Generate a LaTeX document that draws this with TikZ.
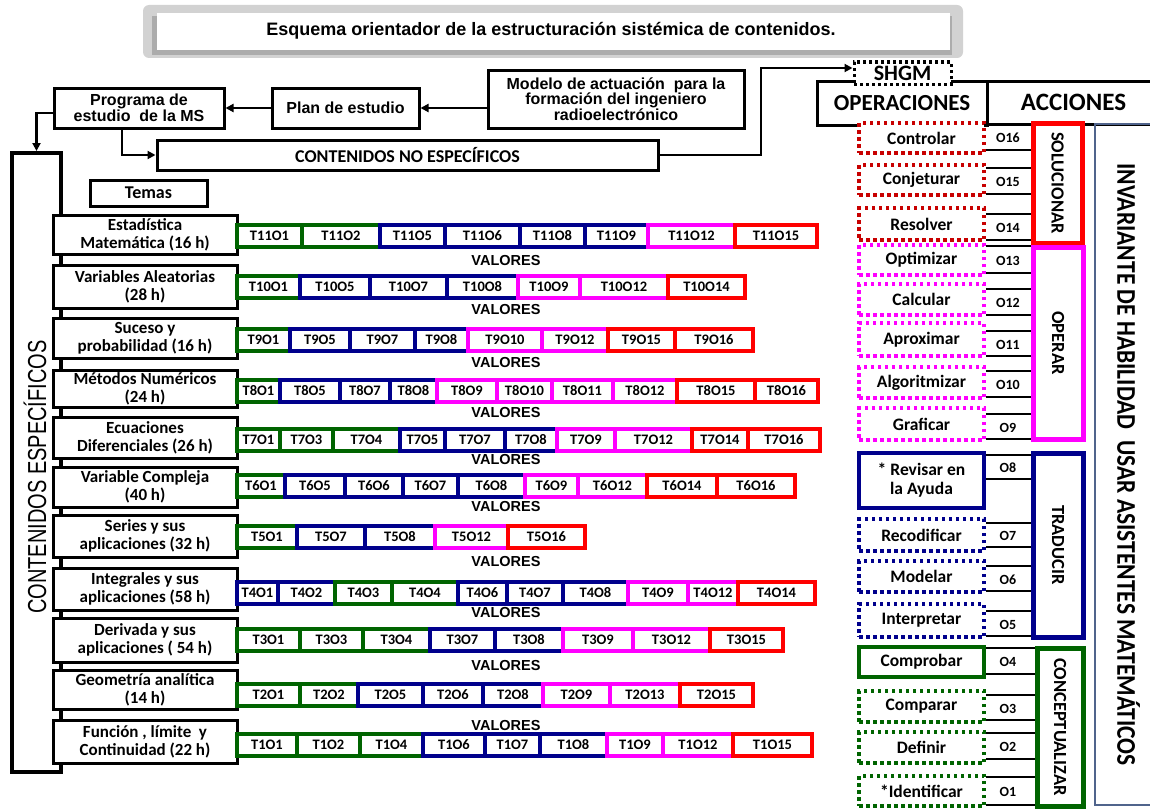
\documentclass[tikz,border=0pt]{standalone}
\usepackage{fontspec}
\setmainfont{Carlito}
\newfontfamily\arialfont{Liberation Sans}
\usetikzlibrary{positioning,arrows.meta}

\definecolor{tgreen}{RGB}{0,100,0}
\definecolor{tnavy}{RGB}{0,0,140}
\definecolor{tmag}{RGB}{255,0,255}
\definecolor{tred}{RGB}{255,0,0}
\definecolor{dred}{RGB}{200,0,0}
\definecolor{invblue}{RGB}{80,100,140}
\newcommand{\fsz}[2]{\fontsize{#1}{#2}\selectfont}

\begin{document}
\begin{tikzpicture}[x=1pt, y=-1pt,
    box/.style={draw, line width=3pt, fill=white, inner sep=0pt, align=center, font=\arialfont\bfseries\fsz{16}{16}},
    theme/.style={draw, line width=3pt, fill=white, inner sep=0pt, align=center, minimum width=184pt, font=\bfseries\fsz{17}{18}},
    cell/.style={draw, line width=4pt, fill=white, inner sep=0pt, minimum height=22pt, font=\bfseries\fsz{14.5}{15}},
    valores/.style={font=\arialfont\bfseries\fsz{14.5}{14}},
    arrow/.style={-{Triangle[length=8pt,width=8pt]}, line width=2.5pt},
    opbox/.style={line width=3.5pt, fill=white, inner sep=0pt, align=center, minimum width=125pt, font=\bfseries\fsz{17.5}{19}},
    dotbox/.style={opbox, dash pattern=on 3.5pt off 3.5pt},
    act/.style={draw, line width=5pt, fill=white, inner sep=0pt, font=\bfseries\fsz{18.5}{18}},
    olab/.style={font=\bfseries\fsz{14}{14}},
    olink/.style={line width=2.5pt}
]
    \useasboundingbox (0,0) rectangle (1150,808);

    % title
    \fill[gray!35, rounded corners=6pt] (143,5) rectangle (963,58);
    \fill[gray!65] (152,16) rectangle (952,55);
    \fill[white] (157,13) rectangle (950,50);
    \node[font=\arialfont\bfseries\fsz{18}{20}] (title) at (551,31) {Esquema orientador de la estructuraci\'on sist\'emica de contenidos.};

    % top chain
    \node[box, minimum width=256pt, minimum height=58pt, font=\arialfont\bfseries\fsz{16}{15.5}] (model) at (616,99) {Modelo de actuaci\'on\ \ para la\\formaci\'on del ingeniero\\radioelectr\'onico};
    \node[box, minimum width=147pt, minimum height=40pt] (plan) at (345.5,108) {Plan de estudio};
    \node[box, minimum width=170pt, minimum height=40pt] (prog) at (139,108) {Programa de\\estudio\ \ de la MS};
    \node[box, minimum width=501pt, minimum height=30pt, font=\bfseries\fsz{18}{18}] (noesp) at (407.5,155) {CONTENIDOS NO ESPEC\'IFICOS};
    \node[box, minimum width=117pt, minimum height=26pt, font=\bfseries\fsz{18}{18}] (temas) at (148.5,193) {Temas};

    % specific contents column
    \node[draw, line width=4pt, minimum width=49pt, minimum height=619pt, inner sep=0pt] (col) at (36.5,462.5) {};
    \node[rotate=90, font=\arialfont\fsz{20}{20}] (colt) at (35,477) {\scalebox{1}[1.3]{CONTENIDOS ESPEC\'IFICOS}};

    \draw[arrow] (plan.east -| model.west) -- (plan.east);
    \draw[arrow] (plan.west) -- (prog.east);
    \draw[arrow] ([yshift=-5pt]prog.west) -| (col.north);
    \draw[arrow] ([xshift=-17pt]prog.south) |- (noesp.west);

    % themes
    \node[theme, minimum height=39pt] (th11) at (145,234.5) {Estad\'istica\\Matem\'atica (16 h)};
    \node[theme, minimum height=43pt] (th10) at (145,286.5) {Variables Aleatorias\\(28 h)};
    \node[theme, minimum height=40pt] (th9) at (145,338) {Suceso y\\probabilidad (16 h)};
    \node[theme, minimum height=37pt] (th8) at (145,388.5) {M\'etodos Num\'ericos\\(24 h)};
    \node[theme, minimum height=41pt] (th7) at (145,437.5) {Ecuaciones\\Diferenciales (26 h)};
    \node[theme, minimum height=40pt] (th6) at (145,487) {Variable Compleja\\(40 h)};
    \node[theme, minimum height=42pt] (th5) at (145,536) {Series y sus\\aplicaciones (32 h)};
    \node[theme, minimum height=42pt] (th4) at (145,589) {Integrales y sus\\aplicaciones (58 h)};
    \node[theme, minimum height=44pt] (th3) at (145,640) {Derivada y sus\\aplicaciones ( 54 h)};
    \node[theme, minimum height=39pt] (th2) at (145,689.5) {Geometr\'ia anal\'itica\\(14 h)};
    \node[theme, minimum height=43pt] (th1) at (145,741.5) {Funci\'on , l\'imite\ \ y\\Continuidad (22 h)};

    % topic cells
    \foreach \a/\b/\c/\t in {237/302/tgreen/T11O1, 302/380/tgreen/T11O2, 380/445/tnavy/T11O5, 445/520/tnavy/T11O6, 520/585/tnavy/T11O8, 585/648/tnavy/T11O9, 648/735/tmag/T11O12, 735/817/tred/T11O15}
        \node[cell, draw=\c, minimum width={(\b-\a)*1pt}] (\t) at ({(\a+\b)/2},236) {\t};
    \foreach \a/\b/\c/\t in {237/300/tgreen/T10O1, 300/370/tnavy/T10O5, 370/447/tnavy/T10O7, 447/518/tnavy/T10O8, 518/580/tmag/T10O9, 580/668/tmag/T10O12, 668/745/tred/T10O14}
        \node[cell, draw=\c, minimum width={(\b-\a)*1pt}] (\t) at ({(\a+\b)/2},287) {\t};
    \foreach \a/\b/\c/\t in {237/290/tgreen/T9O1, 290/350/tnavy/T9O5, 350/415/tnavy/T9O7, 415/468/tnavy/T9O8, 468/542/tmag/T9O10, 542/608/tmag/T9O12, 608/675/tred/T9O15, 675/753/tred/T9O16}
        \node[cell, draw=\c, minimum width={(\b-\a)*1pt}] (\t) at ({(\a+\b)/2},339.5) {\t};
    \foreach \a/\b/\c/\t in {237/280/tgreen/T8O1, 280/340/tnavy/T8O5, 340/390/tnavy/T8O7, 390/437/tnavy/T8O8, 437/497/tmag/T8O9, 497/552/tmag/T8O10, 552/613/tmag/T8O11, 613/677/tmag/T8O12, 677/755/tred/T8O15, 755/818/tred/T8O16}
        \node[cell, draw=\c, minimum width={(\b-\a)*1pt}] (\t) at ({(\a+\b)/2},391) {\t};
    \foreach \a/\b/\c/\t in {237/280/tgreen/T7O1, 280/333/tgreen/T7O3, 333/400/tgreen/T7O4, 400/445/tnavy/T7O5, 445/505/tnavy/T7O7, 505/557/tnavy/T7O8, 557/615/tmag/T7O9, 615/692/tmag/T7O12, 692/748/tred/T7O14, 748/820/tred/T7O16}
        \node[cell, draw=\c, minimum width={(\b-\a)*1pt}] (\t) at ({(\a+\b)/2},439.5) {\t};
    \foreach \a/\b/\c/\t in {237/285/tgreen/T6O1, 285/345/tnavy/T6O5, 345/403/tnavy/T6O6, 403/458/tnavy/T6O7, 458/525/tnavy/T6O8, 525/578/tmag/T6O9, 578/647/tmag/T6O12, 647/717/tred/T6O14, 717/795/tred/T6O16}
        \node[cell, draw=\c, minimum width={(\b-\a)*1pt}] (\t) at ({(\a+\b)/2},485.5) {\t};
    \foreach \a/\b/\c/\t in {237/297/tgreen/T5O1, 297/365/tnavy/T5O7, 365/435/tnavy/T5O8, 435/508/tmag/T5O12, 508/585/tred/T5O16}
        \node[cell, draw=\c, minimum width={(\b-\a)*1pt}] (\t) at ({(\a+\b)/2},536.5) {\t};
    \foreach \a/\b/\c/\t in {237/278/tnavy/T4O1, 278/335/tnavy/T4O2, 335/392/tgreen/T4O3, 392/458/tgreen/T4O4, 458/507/tnavy/T4O6, 507/563/tnavy/T4O7, 563/628/tnavy/T4O8, 628/688/tmag/T4O9, 688/738/tmag/T4O12, 738/815/tred/T4O14}
        \node[cell, draw=\c, minimum width={(\b-\a)*1pt}] (\t) at ({(\a+\b)/2},592.5) {\t};
    \foreach \a/\b/\c/\t in {237/300/tgreen/T3O1, 300/363/tgreen/T3O3, 363/430/tgreen/T3O4, 430/495/tnavy/T3O7, 495/563/tnavy/T3O8, 563/633/tmag/T3O9, 633/710/tmag/T3O12, 710/783/tred/T3O15}
        \node[cell, draw=\c, minimum width={(\b-\a)*1pt}] (\t) at ({(\a+\b)/2},639.5) {\t};
    \foreach \a/\b/\c/\t in {237/300/tgreen/T2O1, 300/358/tgreen/T2O2, 358/423/tnavy/T2O5, 423/483/tnavy/T2O6, 483/543/tnavy/T2O8, 543/610/tmag/T2O9, 610/680/tmag/T2O13, 680/753/tred/T2O15}
        \node[cell, draw=\c, minimum width={(\b-\a)*1pt}] (\t) at ({(\a+\b)/2},695) {\t};
    \foreach \a/\b/\c/\t in {237/297/tgreen/T1O1, 297/360/tgreen/T1O2, 360/423/tgreen/T1O4, 423/485/tnavy/T1O6, 485/540/tnavy/T1O7, 540/607/tnavy/T1O8, 607/663/tmag/T1O9, 663/733/tmag/T1O12, 733/812/tred/T1O15}
        \node[cell, draw=\c, minimum width={(\b-\a)*1pt}] (\t) at ({(\a+\b)/2},745) {\t};

    \foreach \y [count=\i] in {261,310,363,413,460,507,562,612,665,725}
        \node[valores] (val\i) at (506,\y) {VALORES};

    % right side
    \node[box, minimum width=173pt, minimum height=43pt, font=\bfseries\fsz{25}{25}] (acc) at (1073.5,102.5) {ACCIONES};
    \node[box, minimum width=170pt, minimum height=44pt, font=\bfseries\fsz{23}{23}] (oper) at (902,103) {OPERACIONES};
    \node[box, dash pattern=on 3pt off 3pt, minimum width=97pt, minimum height=22pt, font=\bfseries\fsz{22}{22}] (shgm) at (902.5,73) {SHGM};
    \coordinate (bend) at (761,155);
    \draw[arrow] (noesp.east) -- (bend) |- ([yshift=5pt]shgm.west);

    \node[draw=invblue, line width=2.5pt, minimum width=67pt, minimum height=681pt, inner sep=0pt, font=\bfseries\fsz{23.5}{24}] (inv) at (1128.5,464.5) {\rotatebox{-90}{\scalebox{1}[1.15]{INVARIANTE DE HABILIDAD\ \ USAR ASISTENTES MATEM\'ATICOS}}};

    \node[act, draw=tred, minimum width=49pt, minimum height=120pt] (sol) at (1057.5,183) {\rotatebox{-90}{SOLUCIONAR}};
    \node[act, draw=tmag, minimum width=50pt, minimum height=192pt] (ope) at (1058,343) {\rotatebox{-90}{OPERAR}};
    \node[act, draw=tnavy, minimum width=50pt, minimum height=184pt] (tra) at (1058,545) {\rotatebox{-90}{TRADUCIR}};
    \node[act, draw=tgreen, minimum width=46pt, minimum height=158pt, font=\bfseries\fsz{18.5}{18}] (con) at (1060,727) {\rotatebox{-90}{CONCEPTUALIZAR}};

    \node[dotbox, draw=dred, minimum height=30pt] (ctl) at (921.5,138) {Controlar};
    \node[dotbox, draw=dred, minimum height=30pt] (cnj) at (921.5,180) {Conjeturar};
    \node[dotbox, draw=dred, minimum height=32pt] (res) at (921.5,224) {Resolver};
    \node[dotbox, draw=tmag, minimum height=30pt] (opt) at (921.5,260) {Optimizar};
    \node[dotbox, draw=tmag, minimum height=31pt] (cal) at (921.5,299.5) {Calcular};
    \node[dotbox, draw=tmag, minimum height=33pt] (apr) at (921.5,339.5) {Aproximar};
    \node[dotbox, draw=tmag, minimum height=31pt] (alg) at (921.5,382.5) {Algoritmizar};
    \node[dotbox, draw=tmag, minimum height=32pt] (gra) at (921.5,424) {Graficar};
    \node[opbox, draw=tnavy, minimum height=55pt] (rev) at (921.5,480.5) {* Revisar en\\la Ayuda};
    \node[dotbox, draw=tnavy, minimum height=32pt] (rec) at (921.5,535) {Recodificar};
    \node[dotbox, draw=tnavy, minimum height=31pt] (mod) at (921.5,576.5) {Modelar};
    \node[dotbox, draw=tnavy, minimum height=33pt] (int) at (921.5,620.5) {Interpretar};
    \node[opbox, draw=tgreen, minimum height=30pt] (com) at (921.5,662) {Comprobar};
    \node[dotbox, draw=tgreen, minimum height=31pt] (cmp) at (921.5,706.5) {Comparar};
    \node[dotbox, draw=tgreen, minimum height=31pt] (def) at (921.5,747.5) {Definir};
    \node[dotbox, draw=tgreen, minimum height=30pt] (ide) at (921.5,791) {*Identificar};

    \foreach \o/\n/\t/\b/\a in {O16/ctl/124/150/sol, O15/cnj/168/194/sol, O14/res/214/240/sol,
        O13/opt/246/273/ope, O12/cal/289/315/ope, O11/apr/331/356/ope, O10/alg/371/397/ope, O9/gra/414/439/ope,
        O8/rev/455/479/tra, O7/rec/523/547/tra, O6/mod/566/591/tra, O5/int/611/636/tra,
        O4/com/648/674/con, O3/cmp/695/720/con, O2/def/733/759/con, O1/ide/777/805/con} {
        \draw[olink] (\n.east |- 0,\t) -- (\a.west |- 0,\t);
        \draw[olink] (\n.east |- 0,\b) -- (\a.west |- 0,\b);
        \node[olab] (\o) at (1008,{(\t+\b)/2+1}) {\o};
    }
\end{tikzpicture}
\end{document}
